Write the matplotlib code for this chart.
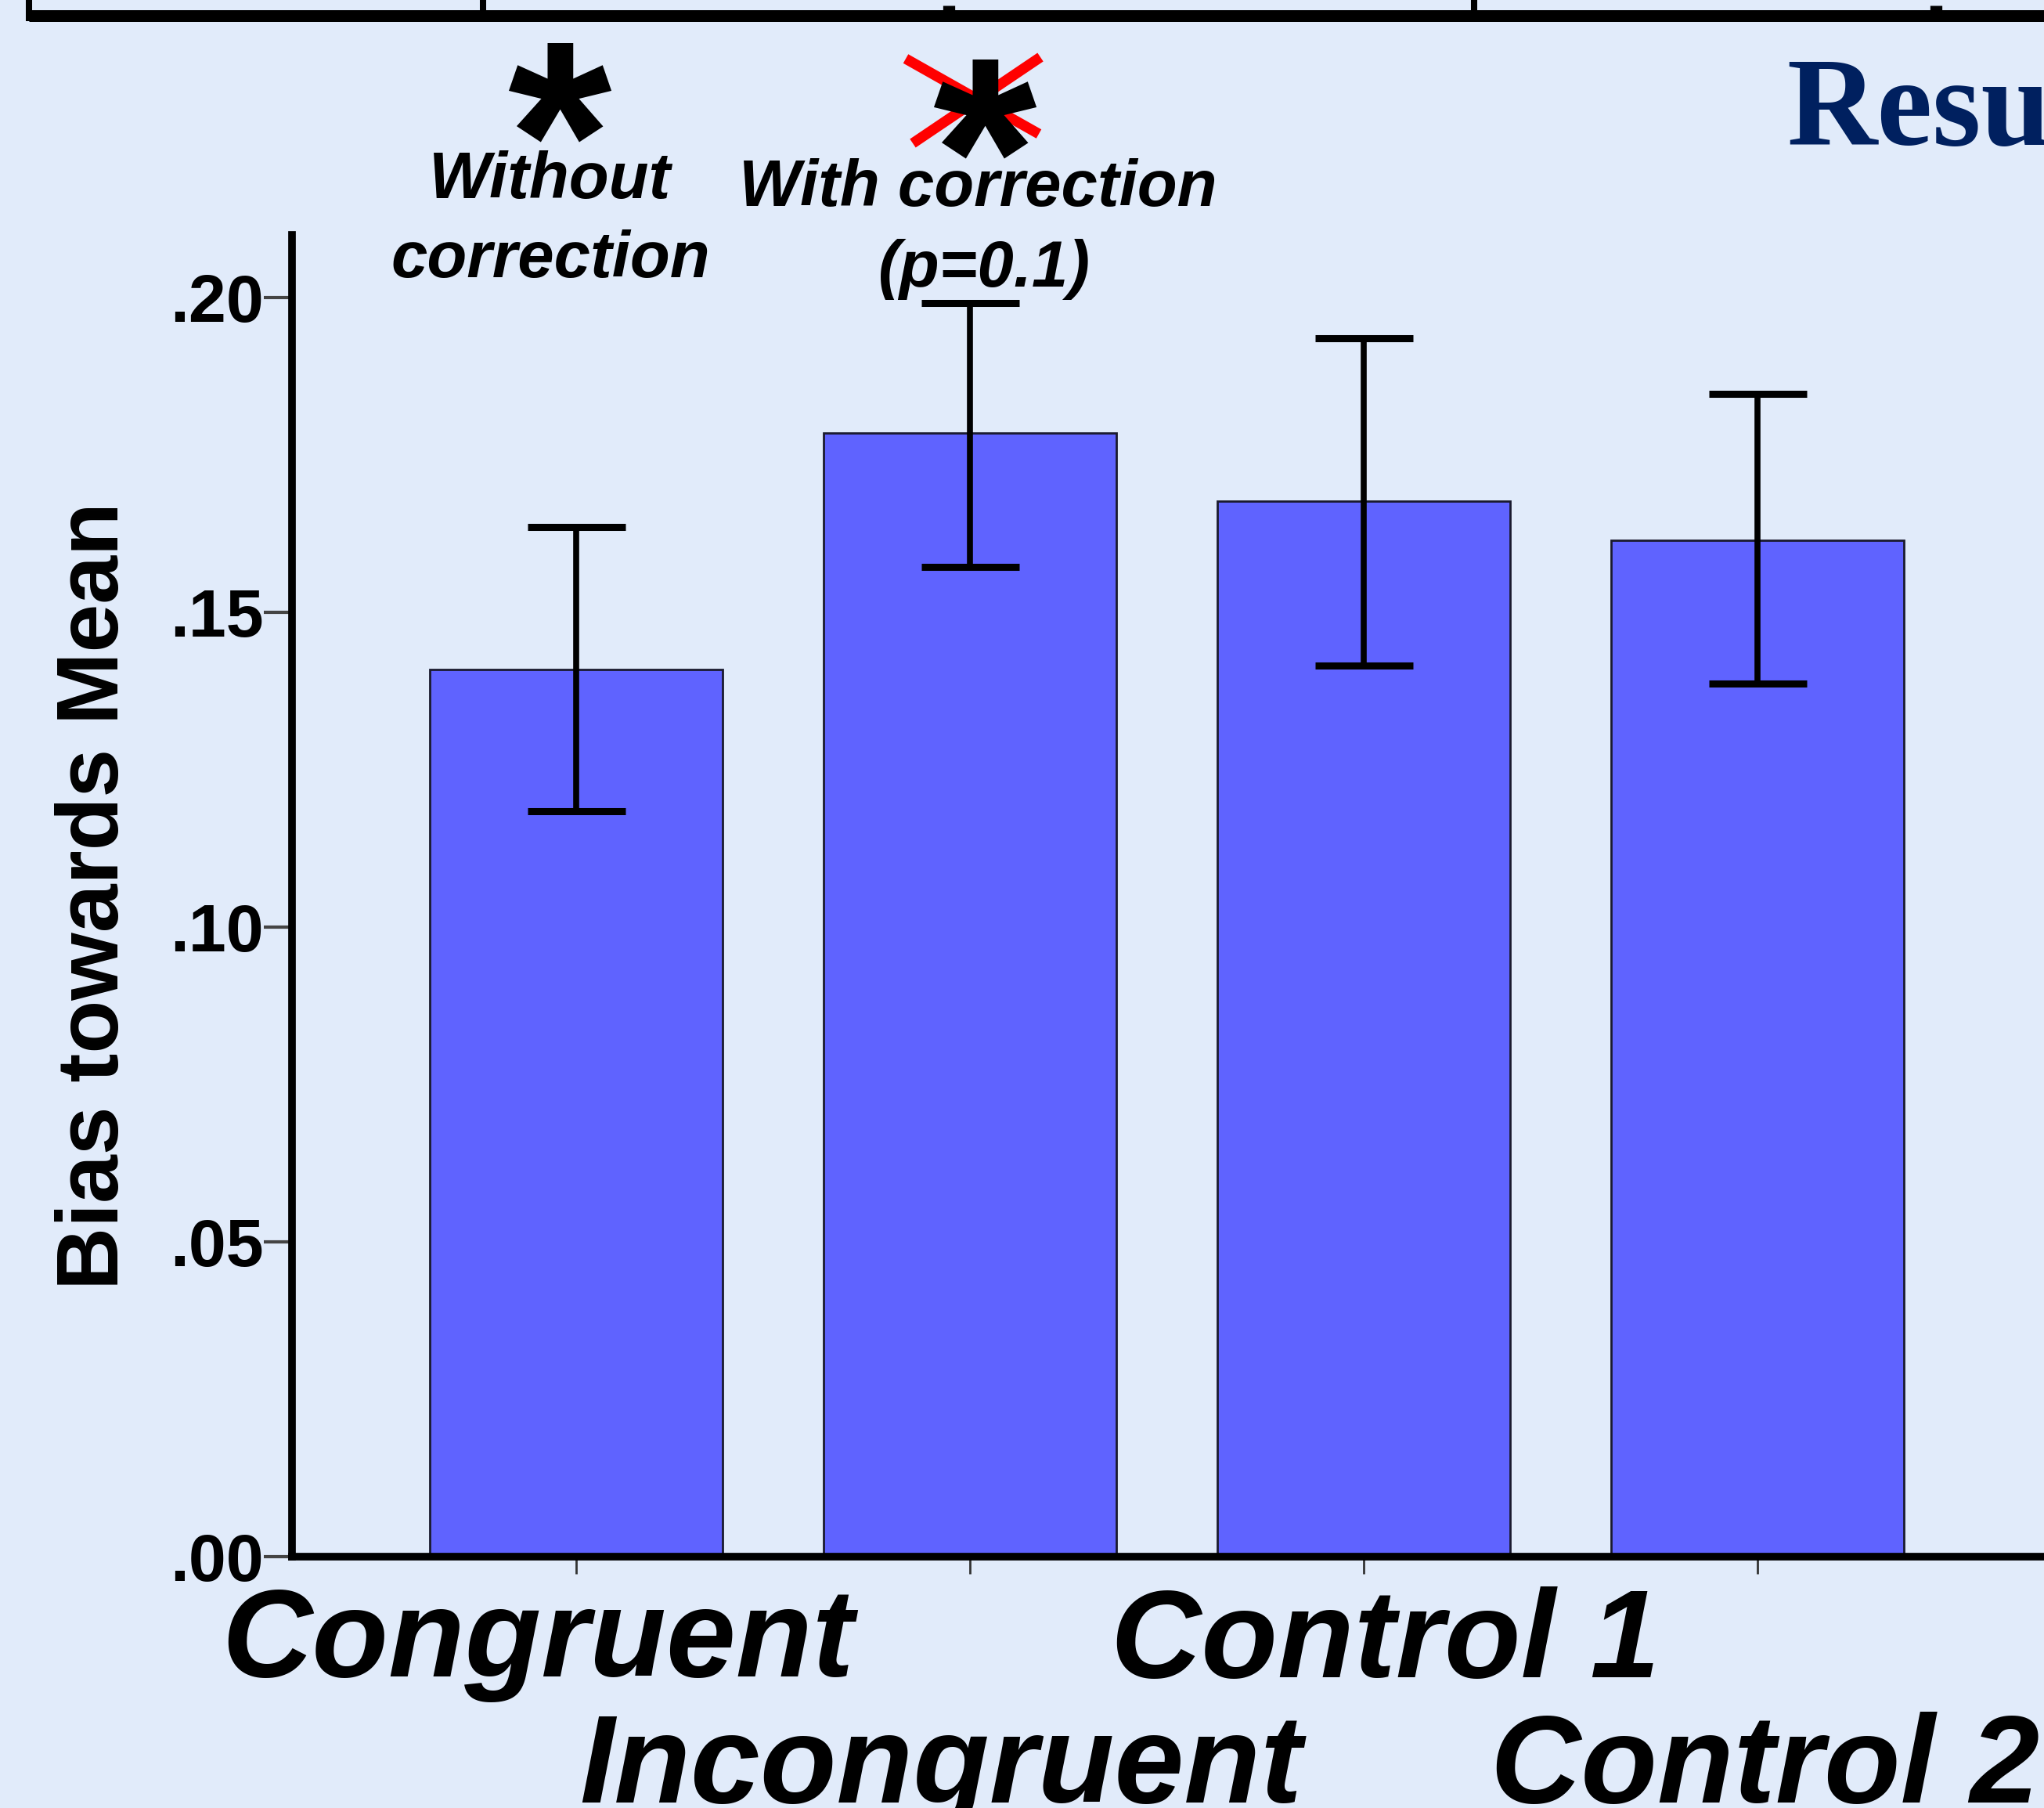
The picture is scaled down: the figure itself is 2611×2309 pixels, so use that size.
import matplotlib
matplotlib.use("Agg")
import matplotlib.pyplot as plt
from matplotlib.lines import Line2D
import matplotlib.transforms as mtransforms
import numpy as np

# ---- data ----
categories = ["Congruent", "Incongruent", "Control 1", "Control 2"]
means = [0.141, 0.1785, 0.1677, 0.1615]
ci_low = [0.1184, 0.1573, 0.1416, 0.1387]
ci_high = [0.1636, 0.1992, 0.1936, 0.1847]
yticks = [0.0, 0.05, 0.10, 0.15, 0.20]
ytick_labels = [".00", ".05", ".10", ".15", ".20"]
ylabel = "Bias towards Mean"

W, H = 2611, 2309
BG = "#E1EBFA"
BAR = "#5F63FF"

fig = plt.figure(figsize=(W / 100, H / 100), dpi=100, facecolor=BG)

def fx(px):
    return px / W

def fy(py):
    return 1 - py / H

ax_left, ax_right, ax_top, ax_bot = 373, 2611, 300, 1988
ax = fig.add_axes([fx(ax_left), fy(ax_bot), fx(ax_right - ax_left), (ax_bot - ax_top) / H])
ax.set_facecolor(BG)

x = np.arange(len(categories))
ax.bar(x, means, width=0.745, color=BAR, edgecolor="#1A1A2E", linewidth=2, zorder=2)
yerr = [np.array(means) - np.array(ci_low), np.array(ci_high) - np.array(means)]
ax.errorbar(x, means, yerr=yerr, fmt="none", ecolor="black", elinewidth=5.5,
            capsize=45, capthick=6.5, zorder=3)

ax.set_xlim(-0.722, 3.728)
ax.set_ylim(0, 0.21)

for s in ["top", "right"]:
    ax.spines[s].set_visible(False)
for s in ["left", "bottom"]:
    ax.spines[s].set_linewidth(7)
    ax.spines[s].set_color("black")
    ax.spines[s].set_zorder(4)

ax.set_yticks(yticks)
ax.set_yticklabels(ytick_labels, fontfamily="Liberation Sans", fontweight="bold", fontsize=62)
ax.tick_params(axis="y", direction="out", length=26, width=3, color="#444444", pad=0)

disp_labels = [c if i % 2 == 0 else "\n" + c for i, c in enumerate(categories)]
ax.set_xticks(x)
ax.set_xticklabels(disp_labels, fontfamily="Liberation Sans", fontweight="bold",
                   fontstyle="italic", fontsize=115)
ax.tick_params(axis="x", direction="out", length=16, width=2, color="#333333", pad=11)
label_shift_pt = [-35, -27, 20, 7]
for lbl, dx in zip(ax.get_xticklabels(), label_shift_pt):
    lbl.set_linespacing(1.1)
    lbl.set_transform(lbl.get_transform() +
                      mtransforms.ScaledTranslation(dx / 72, 0, fig.dpi_scale_trans))

ax.set_ylabel(ylabel, fontfamily="Liberation Sans", fontweight="bold", fontsize=80, labelpad=31)

# ---- annotations ----
afont = dict(fontfamily="Liberation Sans", fontweight="bold", fontstyle="italic",
             fontsize=60, color="black", ha="center", va="baseline")
fig.text(fx(703), fy(253), "Without", **afont)
fig.text(fx(703), fy(354), "correction", **afont)
fig.text(fx(1249), fy(263), "With correction", **afont)
fig.text(fx(1257), fy(366), "(p=0.1)", **afont)

star = dict(fontfamily="Liberation Sans", fontweight="bold", fontsize=245,
            color="black", ha="center", va="baseline")
fig.text(fx(714), fy(288), "*", **star)
fig.text(fx(1257), fy(309), "*", **star)

fig.add_artist(Line2D([fx(1157), fx(1327)], [fy(75), fy(171)], transform=fig.transFigure,
                      color="red", lw=9.5, solid_capstyle="butt"))
fig.add_artist(Line2D([fx(1329), fx(1166)], [fy(73), fy(183)], transform=fig.transFigure,
                      color="red", lw=9.5, solid_capstyle="butt"))

# ---- top decorative border ----
fig.add_artist(Line2D([fx(37), fx(2611)], [fy(19.5), fy(19.5)], transform=fig.transFigure,
                      color="black", lw=10.8, solid_capstyle="butt"))
for xv in [37, 617, 1883]:
    fig.add_artist(Line2D([fx(xv), fx(xv)], [fy(0), fy(27)], transform=fig.transFigure,
                          color="black", lw=5.8, solid_capstyle="butt"))
for xv in [1212, 2473]:
    fig.add_artist(Line2D([fx(xv), fx(xv)], [fy(7), fy(27)], transform=fig.transFigure,
                          color="black", lw=11, solid_capstyle="butt"))

fig.text(fx(2282), fy(185), "Results", fontfamily="Liberation Serif", fontweight="bold",
         fontsize=115, color="#00205F", ha="left", va="baseline")

fig.savefig("out.png", dpi=100, facecolor=BG)
